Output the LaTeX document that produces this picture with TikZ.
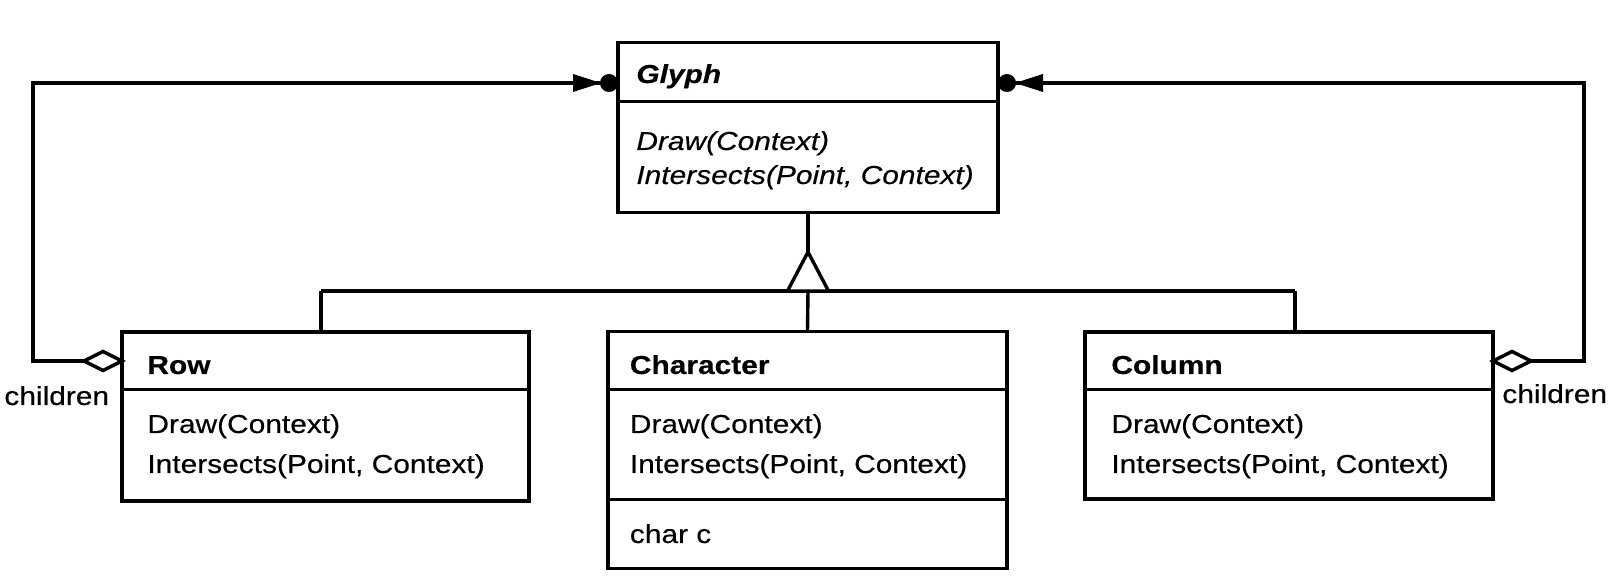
\documentclass[tikz,border=0pt]{standalone}
\usepackage{fontspec}
\setmainfont{Liberation Sans}[FakeStretch=1.15,FakeBold=0.4]
\newcommand\dsz{\fontsize{13pt}{15pt}\selectfont}
\begin{document}
\begin{tikzpicture}[x=0.5pt,y=-0.5pt,
  box/.style={draw, line width=1.7pt, inner sep=0pt, outer sep=0pt, rectangle},
  conn/.style={line width=1.7pt},
  divider/.style={line width=1.5pt},
  txt/.style={anchor=base west, inner sep=0pt, font=\dsz},
  itxt/.style={anchor=base west, inner sep=0pt, font=\dsz\itshape},
  ttl/.style={anchor=base west, inner sep=0pt, font=\dsz\bfseries},
  ittl/.style={anchor=base west, inner sep=0pt, font=\dsz\bfseries\itshape}]
\useasboundingbox (0,0) rectangle (1614,582);

% class boxes
\node[box, minimum width=190pt, minimum height=85pt] (glyph) at (808,127.5) {};
\node[box, minimum width=203.5pt, minimum height=84.5pt] (row) at (325.5,416.5) {};
\node[box, minimum width=199.5pt, minimum height=118.5pt] (character) at (807.5,449.75) {};
\node[box, minimum width=204pt, minimum height=83.5pt] (column) at (1289,415.5) {};

% helper coordinates
\coordinate (gd) at (0,102);
\coordinate (rd) at (0,390);
\coordinate (cd) at (0,500);
\coordinate (aggy) at (0,361);
\coordinate (topy) at (0,83);
\coordinate (lx) at (33,0);
\coordinate (rx) at (1584,0);
\coordinate (apex) at (808,252);
\coordinate (tbase) at (808,291);
\coordinate (hl) at (321,291);
\coordinate (hr) at (1295,291);

% dividers
\draw[divider] (glyph.west |- gd) -- (glyph.east |- gd);
\draw[divider] (row.west |- rd) -- (row.east |- rd);
\draw[divider] (character.west |- rd) -- (character.east |- rd);
\draw[divider] (column.west |- rd) -- (column.east |- rd);
\draw[divider] (character.west |- cd) -- (character.east |- cd);

% texts
\node[ittl] (glyphT) at (636,83) {Glyph};
\node[itxt] (glyphM1) at (636,150) {Draw(Context)};
\node[itxt] (glyphM2) at (636,184) {Intersects(Point, Context)};

\node[ttl] (rowT) at (147,374) {Row};
\node[txt] (rowM1) at (147,433) {Draw(Context)};
\node[txt] (rowM2) at (147,473) {Intersects(Point, Context)};

\node[ttl] (charT) at (629.5,374) {Character};
\node[txt] (charM1) at (629.5,433) {Draw(Context)};
\node[txt] (charM2) at (629.5,473) {Intersects(Point, Context)};
\node[txt] (charA) at (629.5,543) {char c};

\node[ttl] (colT) at (1111,374) {Column};
\node[txt] (colM1) at (1111,433) {Draw(Context)};
\node[txt] (colM2) at (1111,473) {Intersects(Point, Context)};

\node[txt] (lchild) at (4,405) {children};
\node[txt] (rchild) at (1502,403) {children};

% inheritance
\draw[conn] (glyph.south) -- (apex);
\draw[conn] (hl) -- (hr);
\draw[conn, fill=white] (apex) -- ++(-20.5,39) -- ++(41,0) -- cycle;
\draw[conn] (hl) -- (hl |- row.north);
\draw[conn] (tbase) -- (character.north);
\draw[conn] (hr) -- (hr |- column.north);

% left aggregation
\draw[conn] (row.west |- aggy) -- (lx |- aggy) -- (lx |- topy) -- (glyph.west |- topy);
\draw[conn, fill=white, line join=miter] (row.west |- aggy) -- ++(-19,-9.5) -- ++(-19,9.5) -- ++(19,9.5) -- cycle;
\fill (glyph.west |- topy) ++(-9,0) circle[radius=4.5pt];
\fill (glyph.west |- topy) ++(-17,0) -- ++(-28,-9) -- ++(0,18) -- cycle;

% right aggregation
\draw[conn] (column.east |- aggy) -- (rx |- aggy) -- (rx |- topy) -- (glyph.east |- topy);
\draw[conn, fill=white, line join=miter] (column.east |- aggy) -- ++(19,-9.5) -- ++(19,9.5) -- ++(-19,9.5) -- cycle;
\fill (glyph.east |- topy) ++(9,0) circle[radius=4.5pt];
\fill (glyph.east |- topy) ++(17,0) -- ++(28,-9) -- ++(0,18) -- cycle;
\end{tikzpicture}
\end{document}
